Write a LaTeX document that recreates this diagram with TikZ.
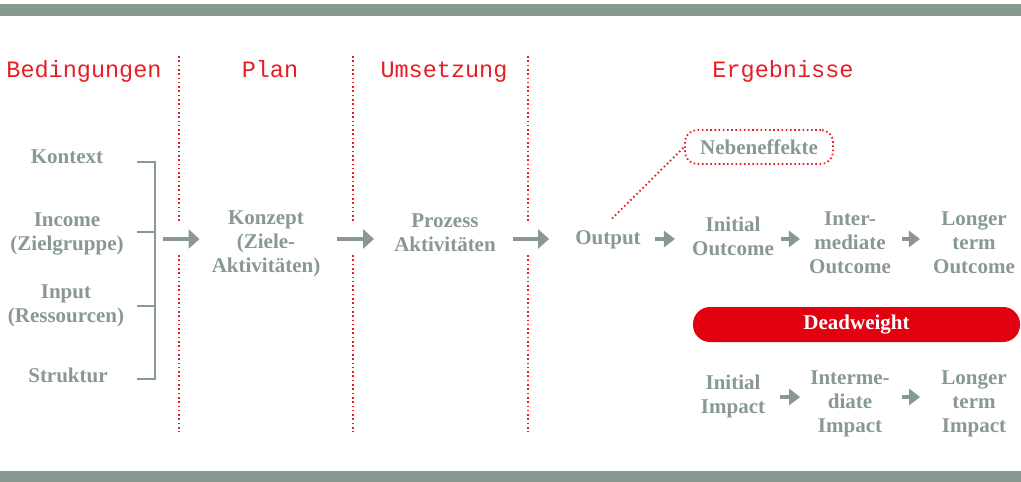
\documentclass[tikz,border=0pt]{standalone}
\usepackage{fontspec}
\setmainfont{Liberation Serif}
\newfontfamily\headfont{Liberation Mono}
\usetikzlibrary{arrows.meta}
\definecolor{bargrey}{RGB}{136,153,143}
\definecolor{textgrey}{RGB}{136,153,143}
\definecolor{markred}{RGB}{227,0,15}
\definecolor{headred}{RGB}{232,28,36}
\begin{document}
\begin{tikzpicture}[x=1pt,y=-1pt,
  head/.style={font=\headfont\fontsize{23.5}{26}\selectfont,text=headred,anchor=base,inner sep=0pt},
  item/.style={font=\bfseries\fontsize{21}{24}\selectfont,text=textgrey,align=center,inner sep=0pt},
  bigarrow/.style={draw=textgrey,line width=4.5pt,-{Triangle[length=11pt,width=19pt]}},
  smallarrow/.style={draw=textgrey,line width=4.5pt,-{Triangle[length=11pt,width=16pt]}},
  sepline/.style={draw=headred,line width=1.6pt,dash pattern=on 1.6pt off 2.7pt},
  bracket/.style={draw=textgrey,line width=2.5pt}]
\useasboundingbox (0,0) rectangle (1021,482);
% bars
\fill[bargrey] (0,4) rectangle (1021,16);
\fill[bargrey] (0,471) rectangle (1021,482);
% headers
\node[head] (hbed) at (84,77) {Bedingungen};
\node[head] (hplan) at (270,77) {Plan};
\node[head] (humset) at (444,77) {Umsetzung};
\node[head] (herg) at (783,77) {Ergebnisse};
% separators
\foreach \x in {179,353,528} {
  \draw[sepline] (\x,56) -- (\x,223);
  \draw[sepline] (\x,255) -- (\x,432);
}
% Bedingungen
\node[item] (kontext) at (67,157) {Kontext};
\node[item] (income) at (67,234) {Income\\(Zielgruppe)};
\node[item] (input) at (66,306) {Input\\(Ressourcen)};
\node[item] (struktur) at (68,375) {Struktur};
\draw[bracket] (137,162) -| (155,379) -- (137,379);
\draw[bracket] (137,232) -- (155,232) (137,306) -- (155,306);
\coordinate (brk) at (155,239);
% Plan, Umsetzung
\node[item] (konzept) at (266,244) {Konzept\\(Ziele-\\Aktivitäten)};
\node[item] (prozess) at (445,233) {Prozess\\Aktivitäten};
% Ergebnisse
\node[item] (output) at (608,240) {Output};
\node[item] (initout) at (733,236) {Initial\\Outcome};
\node[item] (interout) at (850,243) {Inter-\\mediate\\Outcome};
\node[item] (longout) at (974,243) {Longer\\term\\Outcome};
\node[item,draw=headred,line width=1.8pt,dash pattern=on 1.6pt off 2.6pt,
  rounded corners=12pt,minimum width=148pt,minimum height=34pt] (neben) at (759,147) {Nebeneffekte};
\node[item,fill=markred,text=white,rounded corners=17pt,
  minimum width=327pt,minimum height=35pt] (dead) at (856.5,324.5) {Deadweight};
\node[item] (initimp) at (733,396) {Initial\\Impact};
\node[item] (interimp) at (850,404) {Interme-\\diate\\Impact};
\node[item] (longimp) at (974,404) {Longer\\term\\Impact};
\coordinate (row1) at (0,239);
\coordinate (row2) at (0,397);
% arrows
\draw[bigarrow,shorten <=8pt,shorten >=12pt] (brk) -- (brk -| konzept.west);
\draw[bigarrow,shorten <=17pt,shorten >=20pt] (konzept.east |- row1) -- (prozess.west |- row1);
\draw[bigarrow,shorten <=17pt,shorten >=26pt] (prozess.east |- row1) -- (output.west |- row1);
\draw[smallarrow,shorten <=14pt,shorten >=17pt] (output.east |- row1) -- (initout.west |- row1);
\draw[smallarrow,shorten <=7pt,shorten >=9pt] (initout.east |- row1) -- (interout.west |- row1);
\draw[smallarrow,shorten <=11pt,shorten >=13pt] (interout.east |- row1) -- (longout.west |- row1);
\draw[smallarrow,shorten <=15pt,shorten >=10pt] (initimp.east |- row2) -- (interimp.west |- row2);
\draw[smallarrow,shorten <=12pt,shorten >=21pt] (interimp.east |- row2) -- (longimp.west |- row2);
\draw[sepline,line width=1.8pt] ([xshift=4pt,yshift=12pt]output.north) -- (neben.west);
\end{tikzpicture}
\end{document}
